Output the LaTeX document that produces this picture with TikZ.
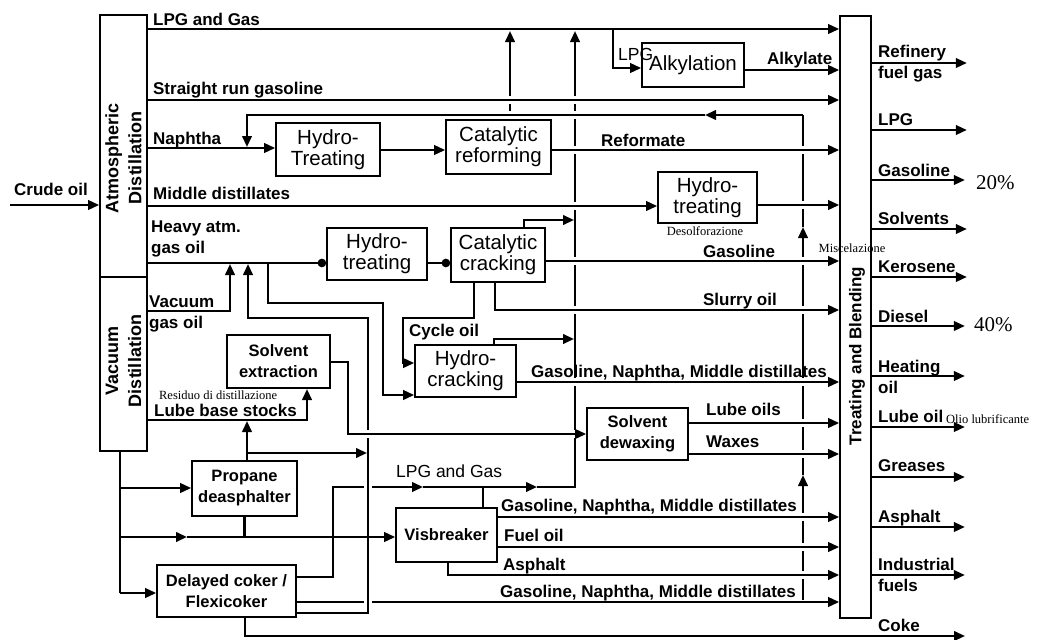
\documentclass[tikz,border=0pt]{standalone}
\usepackage{fontspec}
\setmainfont{Liberation Sans}
\newfontfamily\notefont{Liberation Serif}
\usetikzlibrary{arrows.meta}

\begin{document}
\begin{tikzpicture}[x=1pt, y=-1pt, line width=2.3pt, >={Triangle[length=11pt,width=9.5pt]},
  box/.style={draw, line width=1.7pt, inner sep=0pt, align=center},
  unit/.style={box, font=\fontsize{20.5}{21}\selectfont},
  bunit/.style={box, font=\bfseries\fontsize{16.5}{21}\selectfont},
  col/.style={rotate=90, align=center, inner sep=0pt, font=\bfseries\fontsize{18}{23}\selectfont},
  lbl/.style={anchor=base west, inner sep=0pt, font=\bfseries\fontsize{17}{20}\selectfont},
  rlbl/.style={anchor=base west, inner sep=0pt, font=\fontsize{17.5}{20}\selectfont},
  olbl/.style={anchor=west, inner sep=0pt, align=left, font=\bfseries\fontsize{17}{21}\selectfont},
  anno/.style={inner sep=0pt, font=\notefont\fontsize{12.5}{13}\selectfont},
  pct/.style={anchor=west, inner sep=0pt, font=\notefont\fontsize{21}{21}\selectfont},
  bridge/.style={preaction={draw=white, line width=8pt, -, shorten <=3pt, shorten >=3pt}},
  dotarr/.style={-{Circle[length=8.5pt]}}]
  \useasboundingbox (0,0) rectangle (1039,640);

  % columns
  \node[box, minimum width=47pt, minimum height=262pt] (atm) at (123.5,146) {};
  \node[box, minimum width=47pt, minimum height=174pt] (vac) at (123.5,364) {};
  \node[box, minimum width=31pt, minimum height=602pt] (tb) at (855.5,317) {};
  \node[col] (atmT) at (123.5,158) {Atmospheric\\Distillation};
  \node[col] (vacT) at (123.5,361) {Vacuum\\Distillation};
  \node[col, font=\bfseries\fontsize{17}{20}\selectfont] (tbT) at (857,356) {Treating and Blending};

  % process units
  \node[unit, minimum width=104pt, minimum height=53pt] (hdt) at (328,149.5) {Hydro-\\Treating};
  \node[unit, minimum width=105pt, minimum height=54pt] (cref) at (498.5,147) {Catalytic\\reforming};
  \node[unit, minimum width=102pt, minimum height=44pt] (alky) at (693,65) {Alkylation};
  \node[unit, minimum width=99pt, minimum height=51pt] (hdt2) at (707.5,197.5) {Hydro-\\treating};
  \node[unit, minimum width=100pt, minimum height=52pt] (hdt3) at (377,254) {Hydro-\\treating};
  \node[unit, minimum width=94pt, minimum height=54pt] (fcc) at (498,255) {Catalytic\\cracking};
  \node[unit, minimum width=101pt, minimum height=52pt] (hcr) at (465.5,371) {Hydro-\\cracking};
  \node[bunit, minimum width=103pt, minimum height=53pt] (sext) at (278.5,361.5) {Solvent\\extraction};
  \node[bunit, minimum width=101pt, minimum height=52pt] (sdw) at (637.5,434) {Solvent\\dewaxing};
  \node[bunit, minimum width=105pt, minimum height=55pt] (pda) at (244.5,488.5) {Propane\\deasphalter};
  \node[bunit, minimum width=101pt, minimum height=54pt] (vis) at (446.5,535) {Visbreaker};
  \node[bunit, minimum width=139pt, minimum height=52pt] (coker) at (226.5,591) {Delayed coker /\\Flexicoker};

  % collecting lines (drawn first, crossed later)
  \draw[->] (cref.north -| 510,0) -- (510,31);
  \draw[->, bridge] (coker.east |- 0,602) -- (tb.west |- 0,602);
  \draw[->] (coker.east |- 0,577) -| (333,487) -- (423,487);
  \draw[->] (423,487) -- (537,487);
  \draw[->] (537,487) -| (575,31);
  \draw (vis.north -| 483,0) -- (483,487);
  \draw[->] (803,600) -- (803,475);
  \draw[->] (803,475) -- (803,227);
  \draw (803,227) -- (803,115);
  \draw[->, bridge] (803,115) -- (705,115);
  \draw[->, bridge] (705,115) -| (247,147);

  % atmospheric distillation
  \draw[->] (10,205) -- (atm.west |- 0,205);
  \draw[->] (atm.east |- 0,29) -- (tb.west |- 0,29);
  \draw[->] (613,29) |- (alky.west |- 0,68);
  \draw[->] (alky.east |- 0,70) -- (tb.west |- 0,70);
  \draw[->, bridge] (atm.east |- 0,100) -- (tb.west |- 0,100);
  \draw[->] (atm.east |- 0,148) -- (hdt.west |- 0,148);
  \draw[->] (hdt.east |- 0,150) -- (cref.west |- 0,150);
  \draw[->, bridge] (cref.east |- 0,150) -- (tb.west |- 0,150);
  \draw[->, bridge] (atm.east |- 0,206) -- (hdt2.west |- 0,206);
  \draw[->, bridge] (hdt2.east |- 0,205) -- (tb.west |- 0,205);
  \draw[dotarr] (atm.east |- 0,263) -- (hdt3.west |- 0,263);
  \draw[dotarr] (hdt3.east |- 0,263) -- (fcc.west |- 0,263);

  % cracking
  \draw[->] (fcc.north -| 524,0) |- (574,220);
  \draw[->, bridge] (fcc.east |- 0,261) -- (tb.west |- 0,261);
  \draw[->, bridge] (fcc.south -| 495,0) |- (tb.west |- 0,310);
  \draw[->] (fcc.south -| 474,0) |- (403,318) |- (hcr.west |- 0,363);
  \draw[->] (268,263) |- (383,303) |- (hcr.west |- 0,395);
  \draw[->] (hcr.north -| 494,0) |- (574,339);
  \draw[->, bridge] (hcr.east |- 0,382) -- (tb.west |- 0,382);

  % vacuum distillation
  \draw[->] (vac.east |- 0,311) -| (230,264);
  \draw (vac.south -| 120,0) -- (120,593);
  \draw[->] (120,488) -- (pda.west |- 0,488);
  \draw[->] (120,593) -- (coker.west |- 0,593);
  \draw (pda.south) -- (pda.south |- 0,537);
  \draw[->] (vac.east |- 0,420) -| (307,389);
  \draw[->] (pda.north -| 247,0) -- (247,421);
  \draw[->, bridge] (coker.east |- 0,613) -| (368,318) -| (248,264);
  \draw[->] (120,537) -- (187,537);
  \draw[->] (187,537) -- (vis.west |- 0,537);
  \draw[->] (247,453) -- (367,453);
  \draw[->, bridge] (sext.east |- 0,362) -| (348,434) -- (sdw.west);
  \draw[->, bridge] (sdw.east |- 0,423) -- (tb.west |- 0,423);
  \draw[->, bridge] (sdw.east |- 0,454) -- (tb.west |- 0,454);
  \draw[->, bridge] (vis.east |- 0,517) -- (tb.west |- 0,517);
  \draw[->, bridge] (vis.east |- 0,547) -- (tb.west |- 0,547);
  \draw[->, bridge] (vis.south -| 448,0) |- (tb.west |- 0,575);
  \draw[->] (coker.south -| 245,0) |- (965,636);

  % products
  \draw[->] (tb.east |- 0,63) -- +(95,0);
  \draw[->] (tb.east |- 0,130) -- +(95,0);
  \draw[->] (tb.east |- 0,180) -- +(93,0);
  \draw[->] (tb.east |- 0,229) -- +(95,0);
  \draw[->] (tb.east |- 0,277) -- +(95,0);
  \draw[->] (tb.east |- 0,326) -- +(93,0);
  \draw[->] (tb.east |- 0,376) -- +(93,0);
  \draw[->] (tb.east |- 0,427) -- +(93,0);
  \draw[->] (tb.east |- 0,477) -- +(93,0);
  \draw[->] (tb.east |- 0,527) -- +(93,0);
  \draw[->] (tb.east |- 0,575) -- +(93,0);

  % labels
  \node[lbl] (lCrude) at (13,195) {Crude oil};
  \node[lbl] (lGas) at (152,25) {LPG and Gas};
  \node[lbl] (lSrg) at (152,94) {Straight run gasoline};
  \node[lbl] (lNap) at (152,144) {Naphtha};
  \node[lbl] (lMid) at (152,199) {Middle distillates};
  \node[olbl, anchor=south west] (lHeavy) at (150,258) {Heavy atm.\\gas oil};
  \node[olbl] (lVgo) at (148,314) {Vacuum\\gas oil};
  \node[anno, anchor=base west] (lResid) at (158,399) {Residuo di distillazione};
  \node[lbl] (lLube) at (153,416) {Lube base stocks};
  \node[rlbl] (lLpg) at (617,60) {LPG};
  \node[lbl] (lAlk) at (766,64) {Alkylate};
  \node[lbl] (lRef) at (600,146) {Reformate};
  \node[anno] (lDesolf) at (705,231) {Desolforazione};
  \node[anno] (lMisc) at (852,248) {Miscelazione};
  \node[lbl] (lFccGas) at (702,257) {Gasoline};
  \node[lbl] (lSlurry) at (702,305) {Slurry oil};
  \node[lbl] (lCycle) at (408,336) {Cycle oil};
  \node[lbl] (lHcr) at (530,377) {Gasoline, Naphtha, Middle distillates};
  \node[lbl] (lLubeOil) at (705,415) {Lube oils};
  \node[lbl] (lWax) at (705,447) {Waxes};
  \node[rlbl] (lCokGas) at (395,477) {LPG and Gas};
  \node[lbl] (lVis) at (500,511) {Gasoline, Naphtha, Middle distillates};
  \node[lbl] (lFuel) at (503,541) {Fuel oil};
  \node[lbl] (lAsph) at (502,570) {Asphalt};
  \node[lbl] (lCok) at (499,597) {Gasoline, Naphtha, Middle distillates};

  \node[olbl] (oRef) at (877,64) {Refinery\\fuel gas};
  \node[lbl] (oLpg) at (877,125) {LPG};
  \node[lbl] (oGas) at (877,176) {Gasoline};
  \node[lbl] (oSol) at (877,224) {Solvents};
  \node[lbl] (oKer) at (877,272) {Kerosene};
  \node[lbl] (oDie) at (877,322) {Diesel};
  \node[olbl] (oHeat) at (877,376.5) {Heating\\oil};
  \node[lbl] (oLube) at (877,422) {Lube oil};
  \node[lbl] (oGrs) at (877,471) {Greases};
  \node[lbl] (oAsph) at (877,522) {Asphalt};
  \node[olbl] (oInd) at (877,575) {Industrial\\fuels};
  \node[lbl] (oCoke) at (877,631) {Coke};
  \node[pct] (p20) at (975,183) {20\%};
  \node[pct] (p40) at (973,325) {40\%};
  \node[anno, anchor=west] (lOlio) at (945,419) {Olio lubrificante};
\end{tikzpicture}
\end{document}
